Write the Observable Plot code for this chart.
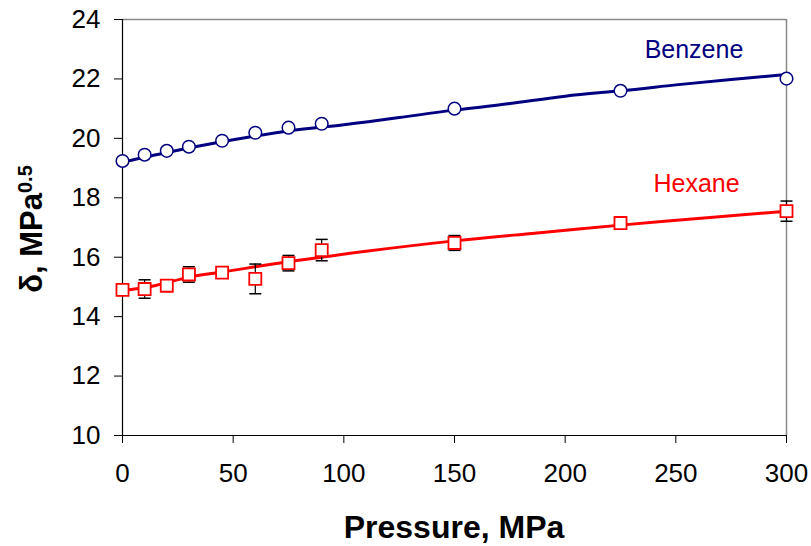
<!DOCTYPE html>
<html>
<head>
<meta charset="utf-8">
<script src="https://cdn.jsdelivr.net/npm/d3@7"></script>
<script src="https://cdn.jsdelivr.net/npm/@observablehq/plot@0.6"></script>
<style>
  html, body { margin: 0; padding: 0; background: #fff; }
  #chart svg { font-family: "Liberation Sans", Arial, sans-serif; }
</style>
</head>
<body>
<div id="chart"></div>
<script>
// Measured data
const benzenePressure = [0, 10, 20, 30, 45, 60, 75, 90, 150, 225, 300];
const benzeneDelta    = [19.24, 19.45, 19.58, 19.72, 19.92, 20.19, 20.36, 20.49, 21.0, 21.6, 22.01];

const hexanePressure = [0, 10, 20, 30, 45, 60, 75, 90, 150, 225, 300];
const hexaneDelta    = [14.9, 14.93, 15.04, 15.42, 15.48, 15.27, 15.8, 16.24, 16.48, 17.15, 17.55];
const hexaneError    = [0.05, 0.31, 0.05, 0.26, 0.05, 0.5, 0.26, 0.36, 0.25, 0.14, 0.34];

// Fitted curves
const benzeneFitP = [0, 25, 50, 75, 100, 125, 150, 175, 200, 225, 250, 275, 300];
const benzeneFitD = [19.2, 19.6, 19.95, 20.25, 20.46, 20.7, 20.95, 21.17, 21.42, 21.6, 21.8, 21.98, 22.15];
const hexaneFitP = [0, 15, 30, 45, 60, 75, 90, 110, 150, 185, 225, 260, 300];
const hexaneFitD = [14.88, 15.05, 15.33, 15.5, 15.68, 15.85, 16.0, 16.2, 16.55, 16.8, 17.08, 17.3, 17.55];

const xTicks = [0, 50, 100, 150, 200, 250, 300];
const yTicks = [10, 12, 14, 16, 18, 20, 22, 24];

const seriesLabels = [
  {name: "Benzene", p: 235.9, d: 22.69, color: "#000080"},
  {name: "Hexane",  p: 239.9, d: 18.2,  color: "#FF0000"}
];

const benzene = benzenePressure.map((p, i) => ({p, d: benzeneDelta[i]}));
const hexane = hexanePressure.map((p, i) => ({p, d: hexaneDelta[i], e: hexaneError[i]}));
const benzeneFit = benzeneFitP.map((p, i) => ({p, d: benzeneFitD[i]}));
const hexaneFit = hexaneFitP.map((p, i) => ({p, d: hexaneFitD[i]}));

const capSymbol = {
  draw(context) { context.moveTo(-6, 0); context.lineTo(6, 0); }
};

const chart = Plot.plot({
  width: 811,
  height: 546,
  marginLeft: 122,
  marginRight: 25,
  marginTop: 19,
  marginBottom: 111,
  style: {fontFamily: "'Liberation Sans', Arial, sans-serif", fontSize: "26px", background: "#fff", overflow: "visible"},
  x: {domain: [0, 300]},
  y: {domain: [10, 24]},
  marks: [
    Plot.ruleY([24], {stroke: "#888", strokeWidth: 1.5}),
    Plot.ruleX([300], {stroke: "#888", strokeWidth: 1.5}),
    Plot.axisY({ticks: yTicks, tickSize: 8, tickPadding: 14, fontSize: 26, label: null, stroke: "#000", color: "#000"}),
    Plot.axisX({ticks: xTicks, tickSize: 8, tickPadding: 20, fontSize: 26, label: null, stroke: "#000", color: "#000"}),
    Plot.ruleX([0], {stroke: "#000", strokeWidth: 1.2}),
    Plot.ruleY([10], {stroke: "#000", strokeWidth: 1.2}),
    Plot.line(benzeneFit, {x: "p", y: "d", stroke: "#000080", strokeWidth: 3, curve: "natural"}),
    Plot.line(hexaneFit, {x: "p", y: "d", stroke: "#FF0000", strokeWidth: 3, curve: "natural"}),
    Plot.ruleX(hexane, {x: "p", y1: d => d.d - d.e, y2: d => d.d + d.e, stroke: "#000", strokeWidth: 1.2}),
    Plot.dot(hexane, {x: "p", y: d => d.d - d.e, symbol: capSymbol, stroke: "#000", strokeWidth: 1.5, fill: "none"}),
    Plot.dot(hexane, {x: "p", y: d => d.d + d.e, symbol: capSymbol, stroke: "#000", strokeWidth: 1.5, fill: "none"}),
    Plot.dot(benzene, {x: "p", y: "d", r: 6.3, fill: "#fff", stroke: "#000080", strokeWidth: 1.5}),
    Plot.dot(hexane, {x: "p", y: "d", symbol: "square", r: 6.8, fill: "#fff", stroke: "#FF0000", strokeWidth: 1.8}),
    Plot.text(seriesLabels, {x: "p", y: "d", text: "name", fill: "color", textAnchor: "start", lineAnchor: "bottom", fontSize: 25})
  ]
});

const svg = d3.select(chart);
svg.selectAll("g[aria-label='y-axis tick label'], g[aria-label='x-axis tick label']")
  .attr("font-size", 26);

svg.append("text")
  .attr("x", 454).attr("y", 538)
  .attr("text-anchor", "middle")
  .attr("font-weight", "bold")
  .attr("font-size", 32)
  .attr("fill", "#000")
  .text("Pressure, MPa");

const yl = svg.append("text")
  .attr("transform", "translate(42,229) rotate(-90)")
  .attr("text-anchor", "middle")
  .attr("font-weight", "bold")
  .attr("font-size", 31)
  .attr("fill", "#000");
yl.append("tspan").text("δ, MPa");
yl.append("tspan").attr("dy", "-0.5em").attr("font-size", 20).text("0.5");

document.getElementById("chart").appendChild(chart);
</script>
</body>
</html>
